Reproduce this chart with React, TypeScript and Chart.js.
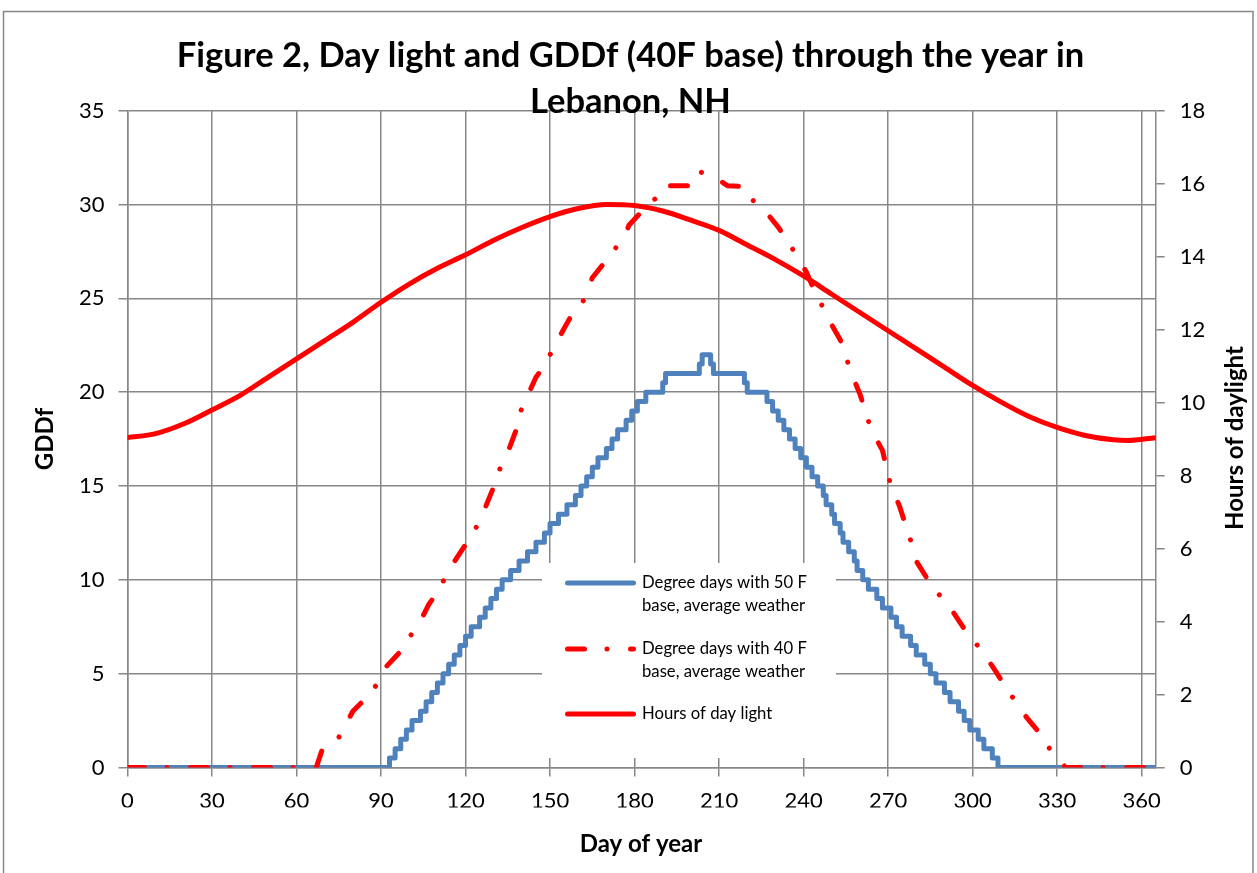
import React, { useEffect, useRef } from "react";
import { Chart, registerables } from "chart.js";

Chart.register(...registerables);

// ---------- data ----------
const TITLE_LINES = ["Figure 2, Day light and GDDf (40F base) through the year in", "Lebanon, NH"];
const X_TITLE = "Day of year";
const Y_TITLE = "GDDf";
const Y2_TITLE = "Hours of daylight";

const LEGEND_50 = ["Degree days with 50 F", "base, average weather"];
const LEGEND_40 = ["Degree days with 40 F", "base, average weather"];
const LEGEND_DL = ["Hours of day light"];

// GDD 50F base: day at which the (rounded) value changes, and the new value
const gdd50Days = [0, 93, 95, 97, 99, 101, 104, 106, 108, 110, 112, 114, 116, 118, 120, 122, 125, 127, 129, 131, 133, 136, 139, 142, 145, 148, 150, 153, 156, 159, 161, 163, 165, 167, 170, 172, 174, 177, 179, 181, 184, 190, 191, 203, 204, 207, 208, 219, 220, 227, 229, 231, 233, 235, 237, 239, 241, 243, 245, 247, 248, 250, 251, 253, 254, 256, 258, 259, 261, 263, 266, 268, 271, 273, 275, 278, 280, 283, 285, 287, 290, 292, 295, 297, 299, 302, 304, 307, 309, 365];
const gdd50Vals = [0, 0.5, 1, 1.5, 2, 2.5, 3, 3.5, 4, 4.5, 5, 5.5, 6, 6.5, 7, 7.5, 8, 8.5, 9, 9.5, 10, 10.5, 11, 11.5, 12, 12.5, 13, 13.5, 14, 14.5, 15, 15.5, 16, 16.5, 17, 17.5, 18, 18.5, 19, 19.5, 20, 20.5, 21, 21.5, 22, 21.5, 21, 20.5, 20, 19.5, 19, 18.5, 18, 17.5, 17, 16.5, 16, 15.5, 15, 14.5, 14, 13.5, 13, 12.5, 12, 11.5, 11, 10.5, 10, 9.5, 9, 8.5, 8, 7.5, 7, 6.5, 6, 5.5, 5, 4.5, 4, 3.5, 3, 2.5, 2, 1.5, 1, 0.5, 0, 0];

// GDD 40F base
const gdd40Days = [0, 67, 69, 75, 80, 86, 90, 92, 97, 101, 104, 107, 111, 113, 117, 121, 124, 127, 130, 132, 135, 138, 139, 142, 145, 147, 150, 155, 158, 162, 165, 172, 177, 178, 183, 188, 190, 200, 202, 203, 208, 213, 219, 223, 228, 231, 235, 239, 241, 244, 248, 249, 253, 257, 260, 264, 268, 271, 274, 278, 280, 286, 291, 297, 302, 307, 313, 319, 324, 329, 332, 333, 365];
const gdd40Vals = [0, 0, 0.9, 1.6, 3.0, 3.9, 4.75, 5.4, 6.2, 7.15, 7.8, 8.7, 9.55, 10.25, 11.2, 12.1, 12.85, 13.85, 14.95, 15.85, 16.8, 18.0, 18.8, 19.8, 20.8, 21.2, 22.0, 23.4, 24.2, 24.9, 26.1, 27.4, 28.5, 28.9, 29.7, 30.4, 31.0, 31.0, 31.3, 31.75, 31.5, 31.0, 30.95, 30.0, 29.35, 28.8, 27.9, 26.9, 26.4, 25.35, 24.2, 23.85, 22.8, 21.0, 19.9, 18.0, 16.9, 15.0, 13.95, 12.1, 11.0, 9.55, 8.75, 7.4, 6.45, 5.4, 4.0, 2.7, 1.8, 0.6, 0.2, 0, 0];

// Hours of daylight
const daylightDays = [0, 10, 20, 30, 40, 50, 60, 70, 80, 90, 100, 110, 120, 130, 140, 150, 160, 170, 180, 190, 200, 210, 220, 230, 240, 250, 260, 270, 280, 290, 300, 310, 320, 330, 340, 350, 355, 365];
const daylightVals = [9.04, 9.15, 9.42, 9.8, 10.2, 10.7, 11.2, 11.7, 12.2, 12.75, 13.25, 13.68, 14.05, 14.45, 14.8, 15.1, 15.32, 15.43, 15.4, 15.25, 15.0, 14.72, 14.32, 13.92, 13.47, 12.97, 12.47, 11.97, 11.47, 10.97, 10.47, 10.02, 9.62, 9.32, 9.1, 8.98, 8.96, 9.04];

const X_MIN = 0, X_MAX = 365, X_STEP = 30;
const Y_MIN = 0, Y_MAX = 35, Y_STEP = 5;
const Y2_MIN = 0, Y2_MAX = 18, Y2_STEP = 2;

// ---------- styles ----------
const W = 1257, H = 873;
const BLUE = "#4F81BD";
const RED = "#FF0000";
const GRID = "#878787";
const FONT = "Lato";
const DASH = [17, 22.5, 0.01, 23.5];

const decorPlugin = {
  id: "decor",
  beforeDraw(chart: any) {
    const ctx = chart.ctx;
    ctx.save();
    ctx.fillStyle = "#ffffff";
    ctx.fillRect(0, 0, W, H);
    ctx.strokeStyle = GRID;
    ctx.lineWidth = 1.5;
    ctx.strokeRect(3.5, 11.5, 1249.5, 900);
    ctx.restore();
  },
  afterDraw(chart: any) {
    const ctx = chart.ctx;
    ctx.save();
    ctx.fillStyle = "#000";
    ctx.textAlign = "center";
    ctx.textBaseline = "alphabetic";
    ctx.font = `bold 34.5px ${FONT}`;
    ctx.fillText(TITLE_LINES[0], 630.5, 67);
    ctx.fillText(TITLE_LINES[1], 630.5, 112.5);

    ctx.font = `bold 24px ${FONT}`;
    ctx.textBaseline = "middle";
    ctx.fillText(X_TITLE, 641, 844);
    ctx.save();
    ctx.translate(45, 439);
    ctx.rotate(-Math.PI / 2);
    ctx.fillText(Y_TITLE, 0, 0);
    ctx.restore();
    ctx.save();
    ctx.translate(1235, 438);
    ctx.rotate(-Math.PI / 2);
    ctx.fillText(Y2_TITLE, 0, 0);
    ctx.restore();

    // legend
    const lx = 542, ly = 563, lw = 294, lh = 195;
    ctx.fillStyle = "#fff";
    ctx.fillRect(lx, ly, lw, lh);
    const items = [
      { lines: LEGEND_50, color: BLUE, dash: [] as number[], y: 583 },
      { lines: LEGEND_40, color: RED, dash: DASH, y: 649 },
      { lines: LEGEND_DL, color: RED, dash: [] as number[], y: 714 },
    ];
    for (const it of items) {
      ctx.beginPath();
      ctx.strokeStyle = it.color;
      ctx.lineWidth = 5;
      ctx.lineCap = "round";
      ctx.setLineDash(it.dash);
      ctx.moveTo(567.5, it.y);
      ctx.lineTo(633.5, it.y);
      ctx.stroke();
      ctx.setLineDash([]);
      ctx.fillStyle = "#000";
      ctx.textAlign = "left";
      ctx.textBaseline = "middle";
      ctx.font = `16.7px ${FONT}`;
      it.lines.forEach((t, i) => ctx.fillText(t, 642, it.y + i * 23));
    }
    ctx.restore();
  },
};

export default function App() {
  const ref = useRef<HTMLCanvasElement | null>(null);
  useEffect(() => {
    if (!ref.current) return;
    const tickFont = { family: FONT, size: 22 };
    const chart = new Chart(ref.current, {
      type: "line",
      data: {
        datasets: [
          {
            label: LEGEND_DL.join(" "),
            data: daylightDays.map((d, i) => ({ x: d, y: daylightVals[i] })),
            yAxisID: "y2",
            borderColor: RED,
            borderWidth: 5,
            borderCapStyle: "round",
            borderJoinStyle: "round",
            cubicInterpolationMode: "monotone",
            pointRadius: 0,
            order: 0,
          },
          {
            label: LEGEND_40.join(" "),
            data: gdd40Days.map((d, i) => ({ x: d, y: gdd40Vals[i] })),
            yAxisID: "y",
            borderColor: RED,
            borderWidth: 5,
            borderDash: DASH,
            borderCapStyle: "round",
            borderJoinStyle: "round",
            tension: 0,
            pointRadius: 0,
            order: 1,
          },
          {
            label: LEGEND_50.join(" "),
            data: gdd50Days.map((d, i) => ({ x: d, y: gdd50Vals[i] })),
            yAxisID: "y",
            borderColor: BLUE,
            borderWidth: 5,
            borderCapStyle: "round",
            borderJoinStyle: "round",
            stepped: "before",
            pointRadius: 0,
            order: 2,
          },
        ],
      } as any,
      options: {
        responsive: false,
        animation: false,
        devicePixelRatio: 1,
        layout: { padding: { top: 110.7, bottom: 65.5, left: 67.5, right: 41.3 } },
        plugins: { legend: { display: false }, title: { display: false }, tooltip: { enabled: false } },
        scales: {
          x: {
            type: "linear",
            min: X_MIN,
            max: X_MAX,
            afterFit: (s: any) => { s.height = 40; },
            ticks: { stepSize: X_STEP, includeBounds: false, font: tickFont, color: "#000", padding: 11, maxRotation: 0 },
            grid: { color: GRID, lineWidth: 1.5, tickLength: 9, drawOnChartArea: true },
            border: { display: true, color: GRID, width: 1.5 },
          },
          y: {
            type: "linear",
            position: "left",
            min: Y_MIN,
            max: Y_MAX,
            afterFit: (s: any) => { s.width = 60; },
            ticks: { stepSize: Y_STEP, font: tickFont, color: "#000", padding: 14 },
            grid: { color: GRID, lineWidth: 1.5, tickLength: 9, drawOnChartArea: true },
            border: { display: true, color: GRID, width: 1.5 },
          },
          y2: {
            type: "linear",
            position: "right",
            min: Y2_MIN,
            max: Y2_MAX,
            afterFit: (s: any) => { s.width = 60; },
            ticks: { stepSize: Y2_STEP, font: tickFont, color: "#000", padding: 15 },
            grid: { color: GRID, lineWidth: 1.5, tickLength: 9, drawOnChartArea: false },
            border: { display: true, color: GRID, width: 1.5 },
          },
        },
      } as any,
      plugins: [decorPlugin],
    });
    return () => chart.destroy();
  }, []);
  return (
    <div style={{ position: "fixed", left: 0, top: 0, width: W, height: H }}>
      <canvas ref={ref} width={W} height={H} style={{ width: W, height: H, display: "block" }} />
    </div>
  );
}
